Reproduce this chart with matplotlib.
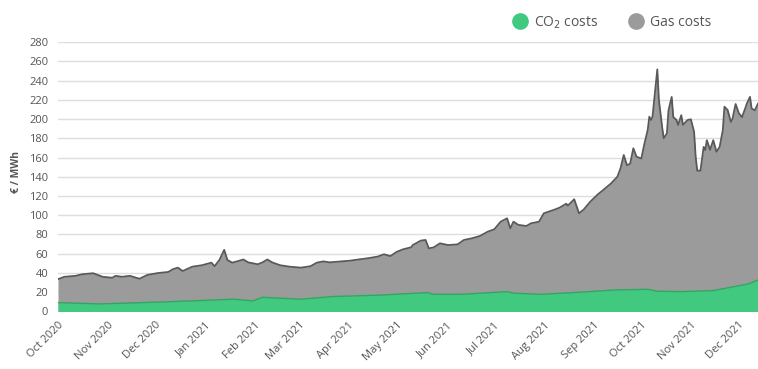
import matplotlib.pyplot as plt
import matplotlib.dates as mdates
from matplotlib.lines import Line2D
import matplotlib.transforms as mtransforms
import pandas as pd

# total generation cost (CO2 + gas), EUR/MWh
total_dates = [
    '2020-10-01', '2020-10-05', '2020-10-12', '2020-10-16', '2020-10-23', '2020-10-29',
    '2020-11-04', '2020-11-06', '2020-11-10', '2020-11-15', '2020-11-21', '2020-11-26',
    '2020-12-03', '2020-12-09', '2020-12-12', '2020-12-15', '2020-12-18', '2020-12-24',
    '2020-12-30', '2021-01-05', '2021-01-07', '2021-01-10', '2021-01-13', '2021-01-15',
    '2021-01-18', '2021-01-21', '2021-01-25', '2021-01-28', '2021-02-03', '2021-02-06',
    '2021-02-09', '2021-02-12', '2021-02-17', '2021-02-23', '2021-03-02', '2021-03-08',
    '2021-03-12', '2021-03-16', '2021-03-20', '2021-03-27', '2021-04-02', '2021-04-07',
    '2021-04-13', '2021-04-19', '2021-04-23', '2021-04-27', '2021-05-01', '2021-05-05',
    '2021-05-10', '2021-05-11', '2021-05-16', '2021-05-19', '2021-05-21', '2021-05-24',
    '2021-05-28', '2021-06-02', '2021-06-08', '2021-06-12', '2021-06-17', '2021-06-22',
    '2021-06-27', '2021-07-01', '2021-07-05', '2021-07-09', '2021-07-11', '2021-07-13',
    '2021-07-16', '2021-07-21', '2021-07-24', '2021-07-29', '2021-08-01', '2021-08-04',
    '2021-08-08', '2021-08-11', '2021-08-15', '2021-08-16', '2021-08-20', '2021-08-23',
    '2021-08-26', '2021-08-30', '2021-09-04', '2021-09-07', '2021-09-12', '2021-09-16',
    '2021-09-18', '2021-09-20', '2021-09-22', '2021-09-24', '2021-09-26', '2021-09-28',
    '2021-10-01', '2021-10-03', '2021-10-05', '2021-10-06', '2021-10-07', '2021-10-08',
    '2021-10-11', '2021-10-12', '2021-10-14', '2021-10-15', '2021-10-17', '2021-10-18',
    '2021-10-20', '2021-10-21', '2021-10-23', '2021-10-24', '2021-10-26', '2021-10-27',
    '2021-10-30', '2021-11-01', '2021-11-03', '2021-11-04', '2021-11-05', '2021-11-07',
    '2021-11-09', '2021-11-10', '2021-11-11', '2021-11-13', '2021-11-15', '2021-11-17',
    '2021-11-19', '2021-11-21', '2021-11-22', '2021-11-24', '2021-11-26', '2021-11-27',
    '2021-11-29', '2021-12-01', '2021-12-03', '2021-12-05', '2021-12-06', '2021-12-08',
    '2021-12-09', '2021-12-11', '2021-12-13',
]
total_cost = [
    33.5, 36, 37, 38.6, 39.7, 36,
    35, 37, 36, 37, 34, 38,
    40, 41, 44, 45.5, 42, 46.5,
    48, 50.7, 47, 53.5, 64, 53.5,
    50.7, 52, 54, 51, 49, 51,
    54, 51, 48, 46.5, 45.5, 47,
    50.7, 52, 51, 52, 52.8, 54,
    55.3, 57, 59.4, 57.5, 62, 64.6,
    66.7, 69, 73.6, 74.3, 65.6, 66.5,
    70.8, 69, 69.7, 74.3, 76, 78.4,
    83, 85.4, 93.3, 96.8, 86.4, 93.3,
    90, 88.8, 91.6, 93.3, 102, 103.7,
    106, 108, 112, 110, 116.6, 102,
    106, 114, 122, 126, 133, 140,
    148.8, 162.6, 152, 153.5, 169.6, 160.8,
    159, 174.8, 188.6, 202.4, 199, 202.4,
    251.6, 219.7, 192, 180, 185, 209,
    223, 202, 199, 193.8, 204, 194,
    199, 199.7, 186.8, 160.8, 146.3, 146.3,
    171, 167.8, 178, 168, 178, 166,
    171, 188.6, 212.8, 209.4, 197, 200,
    215.6, 206, 202, 211, 216, 223,
    211, 209, 216,
]

# CO2 share of the cost, EUR/MWh
co2_dates = [
    '2020-10-01', '2020-10-27', '2020-12-08', '2021-01-19', '2021-01-31', '2021-02-06',
    '2021-03-02', '2021-03-22', '2021-04-21', '2021-05-20', '2021-05-24', '2021-06-10',
    '2021-07-09', '2021-07-13', '2021-07-30', '2021-08-24', '2021-09-14', '2021-10-05',
    '2021-10-11', '2021-10-26', '2021-11-15', '2021-11-28', '2021-12-07', '2021-12-13',
]
co2_cost = [
    9.2, 7.8, 10, 12.7, 11, 14.7,
    12.7, 15.5, 17, 19.6, 17.8, 17.8,
    20.6, 19, 17.8, 20, 22.3, 23,
    21, 20.6, 21.7, 25.8, 28.6, 32.7,
]

y_ticks = list(range(0, 281, 20))

total = pd.Series(total_cost, index=pd.to_datetime(total_dates))
co2 = pd.Series(co2_cost, index=pd.to_datetime(co2_dates))

green = '#41c97f'
grey = '#9b9b9b'
text_col = '#555555'
plt.rcParams['font.family'] = ['Open Sans', 'DejaVu Sans']

fig = plt.figure(figsize=(7.58, 3.69), dpi=100)
ax = fig.add_axes([0.0765, 0.156, 0.9235, 0.730])

ax.fill_between(total.index, 0, total.values, color=grey, lw=0, zorder=2)
ax.plot(total.index, total.values, color='#595959', lw=1.3, zorder=3)
ax.fill_between(co2.index, 0, co2.values, color=green, lw=0, zorder=4)
ax.plot(co2.index, co2.values, color='#2fa863', lw=1.0, zorder=5)

ax.set_ylim(0, 280)
ax.set_xlim(pd.Timestamp('2020-10-01'), pd.Timestamp('2021-12-13'))
ax.set_yticks(y_ticks)
ax.grid(axis='y', color='#dedede', lw=1.0, zorder=0)
ax.set_axisbelow(True)
for s in ax.spines.values():
    s.set_visible(False)
ax.tick_params(axis='both', length=0, labelsize=8, labelcolor=text_col)
ax.tick_params(axis='y', pad=7)

ax.xaxis.set_major_locator(mdates.MonthLocator())
ax.xaxis.set_major_formatter(mdates.DateFormatter('%b %Y'))
shift = mtransforms.ScaledTranslation(15 / 100, -2 / 100, fig.dpi_scale_trans)
for lab in ax.get_xticklabels():
    lab.set_rotation(45)
    lab.set_ha('right')
    lab.set_rotation_mode('anchor')
    lab.set_transform(lab.get_transform() + shift)
ax.tick_params(axis='x', pad=6)

ax.set_ylabel('€ / MWh', fontsize=7.5, fontweight='bold', color=text_col)
ax.yaxis.set_label_coords(-0.051, 0.518)

handles = [
    Line2D([], [], marker='o', ls='', color=green, markersize=11, label='CO$_2$ costs'),
    Line2D([], [], marker='o', ls='', color=grey, markersize=11, label='Gas costs'),
]
fig.legend(handles=handles, loc='upper right', bbox_to_anchor=(0.955, 0.995), ncol=2,
           frameon=False, fontsize=10, labelcolor=text_col, handletextpad=0.5,
           columnspacing=2.2, handlelength=1.0)

fig.savefig('out.png', dpi=100)
